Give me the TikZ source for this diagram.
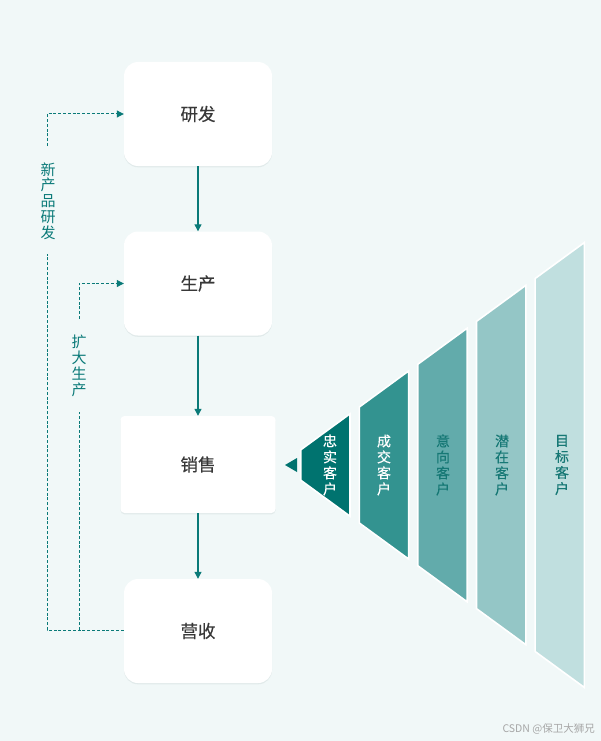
\documentclass[tikz,border=0pt]{standalone}
\usepackage{fontspec}
\setmainfont{Noto Sans CJK SC}
\newfontfamily\semibf{Noto Sans CJK SC}[FakeBold=0.35]
\usetikzlibrary{arrows.meta}
\definecolor{bg}{HTML}{F1F8F8}
\definecolor{shadowc}{HTML}{E1EAEA}
\definecolor{teal1}{HTML}{0A7A78}
\definecolor{segA}{HTML}{00736F}
\definecolor{segB}{HTML}{339390}
\definecolor{segC}{HTML}{62ABAB}
\definecolor{segD}{HTML}{94C6C6}
\definecolor{segE}{HTML}{C0DFDF}
\definecolor{boxtxt}{HTML}{383838}
\definecolor{segtxt}{HTML}{167875}
\tikzset{
  stagebox/.style={draw=none, fill=white, minimum width=148pt, minimum height=104pt,
    rounded corners=14pt, font=\semibf\fontsize{17.5}{19}\selectfont, text=boxtxt,
    preaction={fill=shadowc, transform canvas={yshift=-1.3pt}}},
  flowarrow/.style={draw=teal1, line width=1.2pt, -{Triangle[length=7pt,width=7pt]}},
  loopline/.style={draw=teal1, line width=1pt, dash pattern=on 3pt off 1.8pt},
  looparrow/.style={loopline, -{Triangle[length=7pt,width=7pt]}},
  looplabel/.style={text=teal1, font=\fontsize{15}{15.8}\selectfont, align=center, inner sep=0pt},
  segtext/.style={font=\semibf\fontsize{14}{16}\selectfont, align=center, inner sep=0pt},
  segshape/.style={draw=white, line width=1.6pt, line join=miter}
}
\begin{document}
\begin{tikzpicture}[x=1pt,y=-1pt]
\fill[bg] (0,0) rectangle (601,741);
\useasboundingbox (0,0) rectangle (601,741);

% stage boxes
\node[stagebox] (rd) at (198,114) {研发};
\node[stagebox] (prod) at (198,283.5) {生产};
\node[stagebox, minimum width=155pt, minimum height=97pt, rounded corners=4pt] (sale) at (198,464.5) {销售};
\node[stagebox] (rev) at (198,631) {营收};

% flow arrows
\draw[flowarrow] (rd.south) -- (prod.north);
\draw[flowarrow] (prod.south) -- (sale.north);
\draw[flowarrow] (sale.south) -- (rev.north);

% loop labels
\node[looplabel] (lblA) at (48,201) {新\\产\\品\\研\\发};
\node[looplabel] (lblB) at (79,366) {扩\\大\\生\\产};

% loop coordinates
\coordinate (outerBot) at (47,630);
\coordinate (outerTop) at (47,114);
\coordinate (innerBot) at (79,630);
\coordinate (innerTop) at (79,283.5);
\coordinate (outerGapTop) at (47,146);
\coordinate (outerGapBot) at (47,254);
\coordinate (innerGapTop) at (79,319);
\coordinate (innerGapBot) at (79,412);

% outer loop: 营收 -> 研发
\draw[loopline] (rev.west |- outerBot) -- (outerBot) -- (outerGapBot);
\draw[looparrow] (outerGapTop) -- (outerTop) -- (rd.west |- outerTop);
% inner loop: 营收 -> 生产
\draw[loopline] (innerBot) -- (innerGapBot);
\draw[looparrow] (innerGapTop) -- (innerTop) -- (prod.west |- innerTop);

% funnel segments: half height h(x)=0.731*(x-280), centre y=465
\foreach \i/\col in {0/segA,1/segB,2/segC,3/segD,4/segE}{
  \pgfmathsetmacro{\xl}{300.7+58.6*\i}
  \pgfmathsetmacro{\xr}{\xl+49.3}
  \pgfmathsetmacro{\hl}{0.731*(\xl-280)}
  \pgfmathsetmacro{\hr}{0.731*(\xr-280)}
  \filldraw[segshape, fill=\col] (\xl,465-\hl) -- (\xr,465-\hr) -- (\xr,465+\hr) -- (\xl,465+\hl) -- cycle;
}
% pointer triangle towards 销售
\fill[segA] (285,465) -- (297,458) -- (297,472) -- cycle;

% segment labels
\node[segtext, text=white] (s1) at (330,465) {忠\\实\\客\\户};
\node[segtext, text=white] (s2) at (384,465) {成\\交\\客\\户};
\node[segtext, text=segtxt] (s3) at (443,465) {意\\向\\客\\户};
\node[segtext, text=segtxt] (s4) at (502,465) {潜\\在\\客\\户};
\node[segtext, text=segtxt] (s5) at (562,465) {目\\标\\客\\户};

% watermark
\node[anchor=east, text=gray!70, font=\fontsize{10.5}{11}\selectfont, inner sep=0pt] (wm) at (595,729) {CSDN @保卫大狮兄};
\end{tikzpicture}
\end{document}
